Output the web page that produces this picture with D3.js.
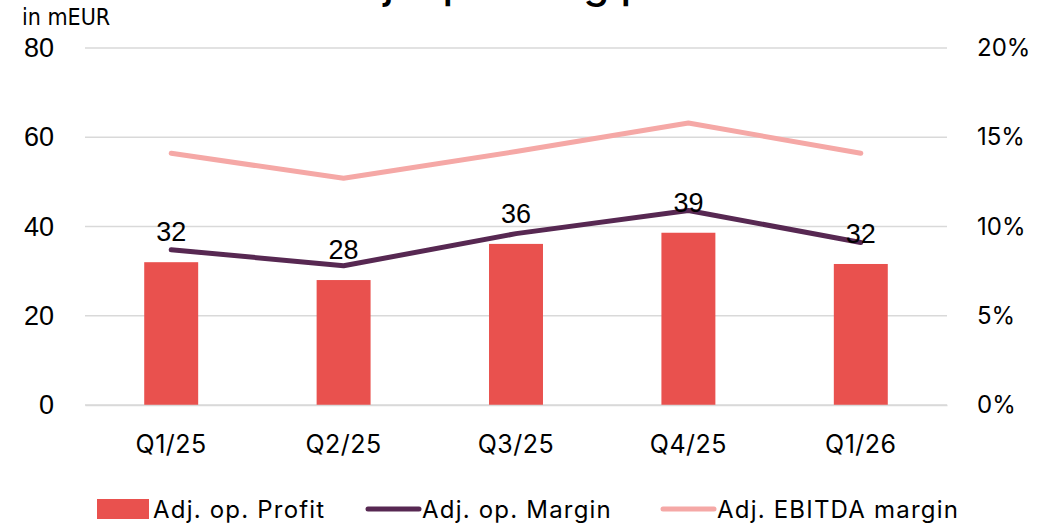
<!DOCTYPE html>
<html>
<head>
<meta charset="utf-8">
<script src="https://cdn.jsdelivr.net/npm/d3@7"></script>
<style>
  body { margin: 0; background: #fff; }
  svg { display: block; }
</style>
</head>
<body>
<svg width="1056" height="526"></svg>
<script>
// Chart data
const quarters = ["Q1/25", "Q2/25", "Q3/25", "Q4/25", "Q1/26"];
const adjOpProfit = [32.0, 28.0, 36.1, 38.6, 31.6];        // mEUR
const adjOpMargin = [8.7, 7.8, 9.6, 10.9, 9.1];             // %
const adjEbitdaMargin = [14.1, 12.7, 14.2, 15.8, 14.1];     // %
const profitLabels = ["32", "28", "36", "39", "32"];
const leftTicks = [0, 20, 40, 60, 80];
const rightTicks = [0, 5, 10, 15, 20];
const seriesNames = ["Adj. op. Profit", "Adj. op. Margin", "Adj. EBITDA margin"];

const svg = d3.select("svg");

const colors = { bar: "#E9514E", margin: "#572852", ebitda: "#F5A8A6", grid: "#d9d9d9" };
const plot = { left: 85, right: 947, top: 48, bottom: 405 };
const sansFont = "Inter, 'Open Sans', sans-serif";
const arialFont = "'Liberation Sans', Arial, sans-serif";

// Scales
const x = d3.scaleBand().domain(quarters).range([plot.left, plot.right]).paddingInner(0.687).paddingOuter(0.3435);
const yLeft = d3.scaleLinear().domain([0, 80]).range([plot.bottom, plot.top]);
const yRight = d3.scaleLinear().domain([0, 20]).range([plot.bottom, plot.top]);
const cx = d => x(d) + x.bandwidth() / 2;

// Title (cut off at top edge, as in the source)
svg.append("text")
    .attr("x", 528).attr("y", -2)
    .attr("text-anchor", "middle")
    .style("font-family", sansFont).style("font-size", "42px").style("font-weight", 500)
    .text("Adj. operating profit");

svg.append("text")
    .attr("x", 22).attr("y", 25)
    .style("font-family", "'Liberation Sans Narrow', 'DejaVu Sans Condensed', sans-serif")
    .style("font-size", "23px")
    .text("in mEUR");

// Gridlines
svg.append("g").selectAll("line")
    .data(leftTicks)
    .join("line")
    .attr("x1", plot.left).attr("x2", plot.right)
    .attr("y1", d => yLeft(d)).attr("y2", d => yLeft(d))
    .attr("stroke", colors.grid).attr("stroke-width", 1.5);

// Left axis
const leftAxis = svg.append("g")
    .attr("transform", `translate(${plot.left},0)`)
    .call(d3.axisLeft(yLeft).tickValues(leftTicks).tickSize(0).tickPadding(31));
leftAxis.select(".domain").remove();
leftAxis.selectAll("text")
    .style("font-family", arialFont).style("font-size", "27px").attr("fill", "#000");

// Right axis
const rightAxis = svg.append("g")
    .attr("transform", `translate(${plot.right},0)`)
    .call(d3.axisRight(yRight).tickValues(rightTicks).tickSize(0).tickPadding(30).tickFormat(d => d + "%"));
rightAxis.select(".domain").remove();
rightAxis.selectAll("text")
    .style("font-family", sansFont).style("font-size", "24px").attr("fill", "#000");

// Bars
svg.append("g").selectAll("rect")
    .data(quarters)
    .join("rect")
    .attr("x", d => x(d))
    .attr("width", x.bandwidth())
    .attr("y", (d, i) => yLeft(adjOpProfit[i]))
    .attr("height", (d, i) => plot.bottom - yLeft(adjOpProfit[i]))
    .attr("fill", colors.bar);

// Bottom axis
const bottomAxis = svg.append("g")
    .attr("transform", `translate(0,${plot.bottom})`)
    .call(d3.axisBottom(x).tickSize(0).tickPadding(30));
bottomAxis.select(".domain").attr("stroke", colors.grid).attr("stroke-width", 1.5);
bottomAxis.selectAll("text")
    .style("font-family", sansFont).style("font-size", "25px")
    .style("letter-spacing", "0.5px").attr("fill", "#000");

// Lines
const lineFor = vals => d3.line()
    .x((d, i) => cx(quarters[i]))
    .y(d => yRight(d))(vals);

svg.append("path")
    .attr("d", lineFor(adjEbitdaMargin))
    .attr("fill", "none").attr("stroke", colors.ebitda)
    .attr("stroke-width", 5).attr("stroke-linecap", "round").attr("stroke-linejoin", "round");

svg.append("path")
    .attr("d", lineFor(adjOpMargin))
    .attr("fill", "none").attr("stroke", colors.margin)
    .attr("stroke-width", 5).attr("stroke-linecap", "round").attr("stroke-linejoin", "round");

// Bar value labels
svg.append("g").selectAll("text")
    .data(quarters)
    .join("text")
    .attr("x", d => cx(d))
    .attr("y", (d, i) => yLeft(adjOpProfit[i]) - 21)
    .attr("text-anchor", "middle")
    .style("font-family", arialFont).style("font-size", "27px")
    .text((d, i) => profitLabels[i]);

// Legend
const legend = svg.append("g").attr("transform", "translate(0,509)");
const legendItems = [
    { name: seriesNames[0], type: "rect", color: colors.bar, x: 97 },
    { name: seriesNames[1], type: "line", color: colors.margin, x: 366 },
    { name: seriesNames[2], type: "line", color: colors.ebitda, x: 661 }
];
legendItems.forEach(item => {
    if (item.type === "rect") {
        legend.append("rect").attr("x", item.x).attr("y", -10).attr("width", 52).attr("height", 20).attr("fill", item.color);
    } else {
        legend.append("line").attr("x1", item.x + 2).attr("x2", item.x + 53).attr("y1", 0).attr("y2", 0)
            .attr("stroke", item.color).attr("stroke-width", 5).attr("stroke-linecap", "round");
    }
    legend.append("text")
        .attr("x", item.x + 56).attr("y", 0).attr("dy", "0.36em")
        .style("font-family", sansFont).style("font-size", "24px")
        .style("letter-spacing", "1.2px")
        .text(item.name);
});
</script>
</body>
</html>
